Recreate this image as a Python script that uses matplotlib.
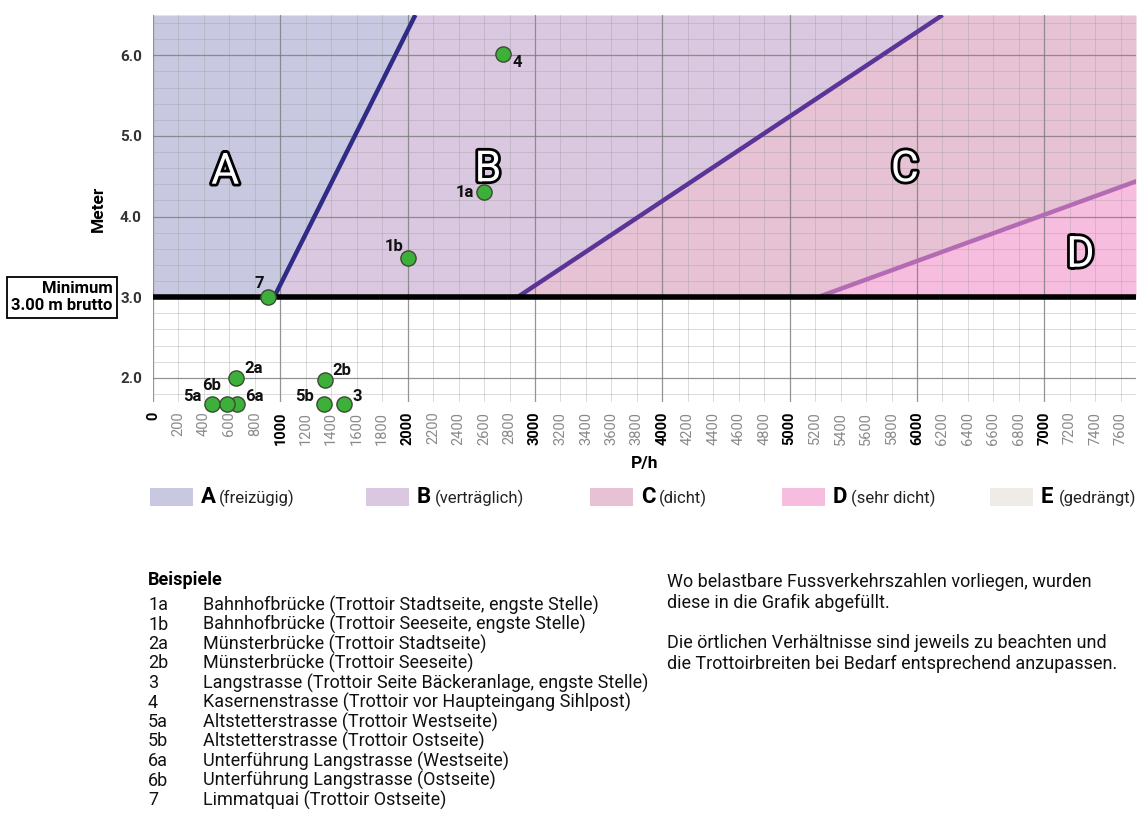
import matplotlib
matplotlib.use('Agg')
import matplotlib.pyplot as plt
import matplotlib.patheffects as pe
import numpy as np
from matplotlib.transforms import blended_transform_factory

plt.rcParams['font.family'] = ['Roboto', 'DejaVu Sans']

# ---------------- data ----------------
point_labels = ['1a', '1b', '2a', '2b', '3', '4', '5a', '5b', '6a', '6b', '7']
point_flow = [2600, 2000, 650, 1350, 1500, 2750, 460, 1340, 660, 580, 900]      # P/h
point_width = [4.30, 3.48, 2.00, 1.97, 1.67, 6.02, 1.67, 1.67, 1.67, 1.67, 3.00]  # Meter

zone_names = ['A', 'B', 'C', 'D', 'E']
zone_desc = ['(freizügig)', '(verträglich)', '(dicht)', '(sehr dicht)', '(gedrängt)']
zone_colors = ['#c9c8e1', '#dac7e0', '#e7c2d4', '#f6bddf', '#efebe7']
boundary_rates = [317, 954, 1740]          # P/h per metre: A/B, B/C, C/D
boundary_colors = ['#2e2c85', '#5a3597', '#b56bb3']
minimum_width = 3.0

x_ticks = list(range(0, 7601, 200))
y_ticks = [2.0, 3.0, 4.0, 5.0, 6.0]

example_codes = ['1a', '1b', '2a', '2b', '3', '4', '5a', '5b', '6a', '6b', '7']
example_names = [
    'Bahnhofbrücke (Trottoir Stadtseite, engste Stelle)',
    'Bahnhofbrücke (Trottoir Seeseite, engste Stelle)',
    'Münsterbrücke (Trottoir Stadtseite)',
    'Münsterbrücke (Trottoir Seeseite)',
    'Langstrasse (Trottoir Seite Bäckeranlage, engste Stelle)',
    'Kasernenstrasse (Trottoir vor Haupteingang Sihlpost)',
    'Altstetterstrasse (Trottoir Westseite)',
    'Altstetterstrasse (Trottoir Ostseite)',
    'Unterführung Langstrasse (Westseite)',
    'Unterführung Langstrasse (Ostseite)',
    'Limmatquai (Trottoir Ostseite)',
]
note_lines = [
    'Wo belastbare Fussverkehrszahlen vorliegen, wurden',
    'diese in die Grafik abgefüllt.',
    '',
    'Die örtlichen Verhältnisse sind jeweils zu beachten und',
    'die Trottoirbreiten bei Bedarf entsprechend anzupassen.',
]

# ---------------- figure ----------------
W, H = 1148, 834
fig = plt.figure(figsize=(W / 100, H / 100), dpi=100)

def fx(px):
    return px / W

def fy(py):
    return 1 - py / H

XMAX, YMIN, YMAX = 7720, 1.7, 6.5
ax = fig.add_axes([fx(153), fy(402), fx(1136) - fx(153), fy(15) - fy(402)])
ax.set_xlim(0, XMAX)
ax.set_ylim(YMIN, YMAX)
for s in ax.spines.values():
    s.set_visible(False)

# zone fills above minimum
yy = np.linspace(minimum_width, YMAX, 200)
bounds = [np.zeros_like(yy)] + [np.minimum(r * yy, XMAX) for r in boundary_rates] + [np.full_like(yy, XMAX)]
for i in range(4):
    ax.fill_betweenx(yy, bounds[i], bounds[i + 1], color=zone_colors[i], lw=0, zorder=0.1)

# boundary lines
for r, c in zip(boundary_rates, boundary_colors):
    ax.plot(r * yy, yy, color=c, lw=3.2, zorder=2, solid_capstyle='butt')

# minimum line
ax.axhline(minimum_width, color='black', lw=4, zorder=3)

# ticks / grid
ax.set_axisbelow(True)
ax.set_xticks(x_ticks)
ax.set_xticklabels([str(v) for v in x_ticks], rotation=90)
ax.set_yticks(y_ticks)
ax.set_yticklabels([f'{v:.1f}' for v in y_ticks])
ax.set_yticks(np.arange(1.8, YMAX + 0.01, 0.2), minor=True)
ax.tick_params(axis='both', which='both', length=0)
ax.tick_params(axis='x', pad=7, labelsize=10.5)
ax.tick_params(axis='y', pad=8, labelsize=11)
ax.grid(True, which='major', axis='x')
ax.grid(True, which='both', axis='y')
for v, gl, lab in zip(x_ticks, ax.xaxis.get_gridlines(), ax.get_xticklabels()):
    if v % 1000 == 0:
        gl.set_color('#7a7a7a'); gl.set_linewidth(0.9); gl.set_alpha(0.8)
        lab.set_fontweight('bold'); lab.set_color('black')
    else:
        gl.set_color('#9a9a9a'); gl.set_linewidth(0.6); gl.set_alpha(0.4)
        lab.set_color('#8a8a8a')
for gl in ax.yaxis.get_gridlines():
    gl.set_color('#7a7a7a'); gl.set_linewidth(0.9); gl.set_alpha(0.8)
ax.yaxis.grid(True, which='minor', color='#9a9a9a', lw=0.6, alpha=0.4)
for lab in ax.get_yticklabels():
    lab.set_fontweight('bold'); lab.set_color('#333333')

ax.set_xlabel('P/h', fontsize=12.5, fontweight='bold', labelpad=8)
ax.set_ylabel('Meter', fontsize=12.5, fontweight='bold', labelpad=10)

# data points
ax.scatter(point_flow, point_width, s=120, color='#3db03a', edgecolor='#3c4a35',
           linewidth=1.0, zorder=5, clip_on=False)
label_offsets = {'1a': (-19, 0), '1b': (-14, 12), '2a': (18, 9), '2b': (17, 10),
                 '3': (13, 8), '4': (14, -9), '5a': (-19, 8), '5b': (-19, 8),
                 '6a': (17, 8), '6b': (-15, 19), '7': (-8, 14)}
for lab, x, y in zip(point_labels, point_flow, point_width):
    dx, dy = label_offsets[lab]
    ax.annotate(lab, (x, y), xytext=(dx, dy), textcoords='offset pixels',
                ha='center', va='center', fontsize=12, fontweight='bold',
                color='#111111', zorder=6, annotation_clip=False)

# zone letters
zone_letter_pos = [(567, 4.55), (2630, 4.58), (5905, 4.58), (7283, 3.52)]
for name, (x, y) in zip(zone_names, zone_letter_pos):
    ax.text(x, y, name, fontsize=31, color='white', ha='center', va='center', zorder=4,
            path_effects=[pe.Stroke(linewidth=4, foreground='black'), pe.Normal()])

# minimum box
tr = blended_transform_factory(ax.transAxes, ax.transData)
ax.text(-0.041, minimum_width, 'Minimum\n3.00 m brutto', transform=tr, ha='right',
        va='center', multialignment='right', fontsize=12, fontweight='bold',
        linespacing=1.2, zorder=7,
        bbox=dict(boxstyle='square,pad=0.25', facecolor='white', edgecolor='black', lw=1.3))

# legend row
sw_x = [150, 366, 590, 782, 990]
for i in range(5):
    fig.patches.append(plt.Rectangle((fx(sw_x[i]), fy(506)), fx(43), 18 / H,
                                     transform=fig.transFigure, color=zone_colors[i], lw=0))
    fig.text(fx(sw_x[i] + 51), fy(497), zone_names[i], fontsize=16, fontweight='bold',
             ha='left', va='center')
    fig.text(fx(sw_x[i] + 69), fy(498), zone_desc[i], fontsize=12, ha='left', va='center',
             color='#222222')

# examples text
fig.text(fx(148), fy(580), 'Beispiele', fontsize=13, fontweight='bold', va='center')
for i, (c, n) in enumerate(zip(example_codes, example_names)):
    yp = 605 + i * 19.5
    fig.text(fx(148), fy(yp), c, fontsize=13, va='center', color='#111111')
    fig.text(fx(203), fy(yp), n, fontsize=13, va='center', color='#111111')
for i, t in enumerate(note_lines):
    fig.text(fx(667), fy(582 + i * 20.5), t, fontsize=13, va='center', color='#111111')

fig.savefig('out.png', dpi=100, facecolor='white')
